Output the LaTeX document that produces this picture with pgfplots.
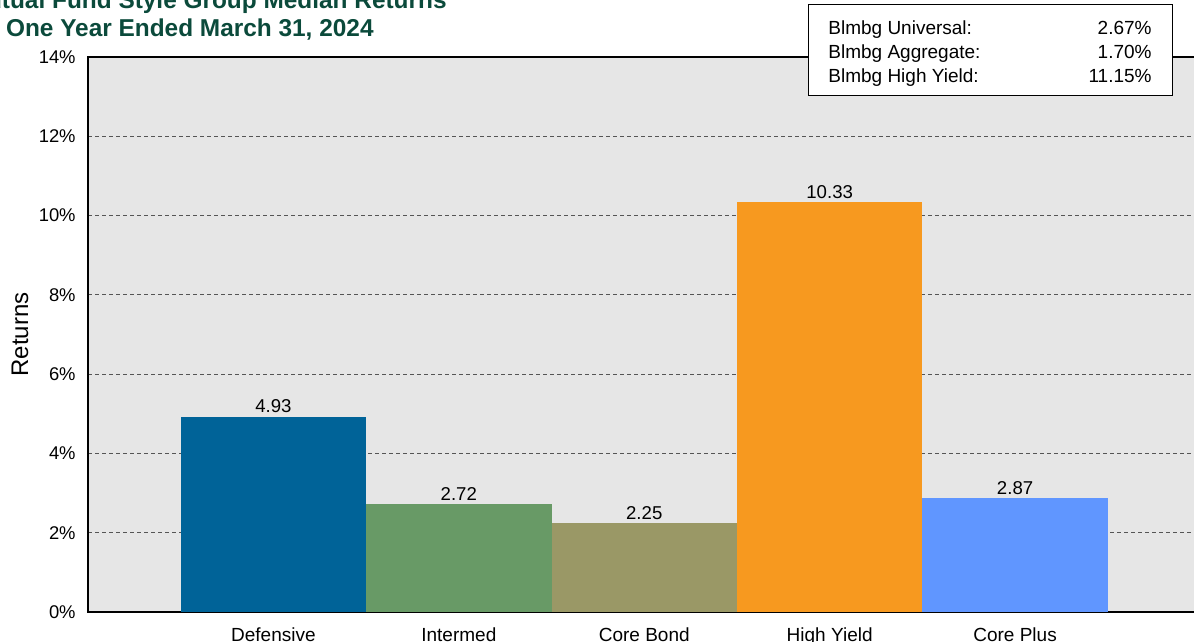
\documentclass[border=0pt]{standalone}
\usepackage{pgfplots}
\pgfplotsset{compat=1.18}
\usepackage{fontspec}
\setmainfont{Liberation Sans}
\definecolor{bgc}{HTML}{E6E6E6}
\definecolor{gridc}{HTML}{555555}
\definecolor{titc}{HTML}{0B4A3B}
\definecolor{cDef}{HTML}{006398}
\definecolor{cInt}{HTML}{689A66}
\definecolor{cCore}{HTML}{9A9866}
\definecolor{cHY}{HTML}{F7991F}
\definecolor{cCP}{HTML}{6096FF}
\begin{document}
\begin{tikzpicture}
\path[use as bounding box] (0,0) rectangle (597pt,321pt);
\clip (0,0) rectangle (597pt,321pt);
\begin{axis}[
  at={(44pt,15pt)}, anchor=south west,
  scale only axis, width=556.25pt, height=277.5pt,
  xmin=-1, xmax=5, ymin=0, ymax=14,
  xtick={0,1,2,3,4},
  xticklabels={Defensive,Intermed,Core Bond,High Yield,Core Plus},
  ytick={0,2,4,6,8,10,12,14},
  yticklabel={\pgfmathprintnumber{\tick}\%},
  /pgf/number format/assume math mode=true,
  major tick length=0pt,
  tick style={draw=none},
  xticklabel style={font=\fontsize{9.5pt}{11pt}\selectfont, inner sep=0pt, anchor=north, yshift=-7.5pt},
  yticklabel style={font=\fontsize{9.2pt}{10pt}\selectfont, inner sep=0pt, anchor=east, xshift=-6pt},
  axis background/.style={fill=bgc},
  axis line style={black, line width=0.7pt},
  ymajorgrids,
  major grid style={gridc, line width=0.5pt, dash pattern=on 2pt off 1.5pt},
  ylabel={Returns},
  every axis y label/.style={at={(axis description cs:-0.0611,0.5)}, rotate=90, anchor=center, font=\fontsize{12pt}{14pt}\selectfont},
  nodes near coords,
  nodes near coords style={font=\fontsize{9.3pt}{11pt}\selectfont, black, anchor=south, inner sep=1.5pt,
    /pgf/number format/.cd, fixed, precision=2, fixed zerofill, assume math mode=true},
]
\addplot[ybar, bar width=1, fill=cDef, draw=none] coordinates {(0,4.93)};
\addplot[ybar, bar width=1, fill=cInt, draw=none] coordinates {(1,2.72)};
\addplot[ybar, bar width=1, fill=cCore, draw=none] coordinates {(2,2.25)};
\addplot[ybar, bar width=1, fill=cHY, draw=none] coordinates {(3,10.33)};
\addplot[ybar, bar width=1, fill=cCP, draw=none] coordinates {(4,2.87)};
\end{axis}
\node[anchor=base east, inner sep=0pt, text=titc, font=\fontsize{12.2pt}{14pt}\selectfont\bfseries] at (223.5pt,316.5pt) {Mutual Fund Style Group Median Returns};
\node[anchor=base east, inner sep=0pt, text=titc, font=\fontsize{12.2pt}{14pt}\selectfont\bfseries] at (187pt,302.5pt) {One Year Ended March 31, 2024};
\draw[fill=white, line width=0.5pt] (404pt,273pt) rectangle (586pt,318.5pt);
\begin{scope}[every node/.style={font=\fontsize{9.5pt}{11pt}\selectfont, inner sep=0pt}]
\node[anchor=base west] at (414pt,303.5pt) {Blmbg Universal:};
\node[anchor=base west] at (414pt,291.5pt) {Blmbg Aggregate:};
\node[anchor=base west] at (414pt,279.5pt) {Blmbg High Yield:};
\node[anchor=base east] at (576pt,303.5pt) {2.67\%};
\node[anchor=base east] at (576pt,291.5pt) {1.70\%};
\node[anchor=base east] at (576pt,279.5pt) {11.15\%};
\end{scope}
\end{tikzpicture}
\end{document}
